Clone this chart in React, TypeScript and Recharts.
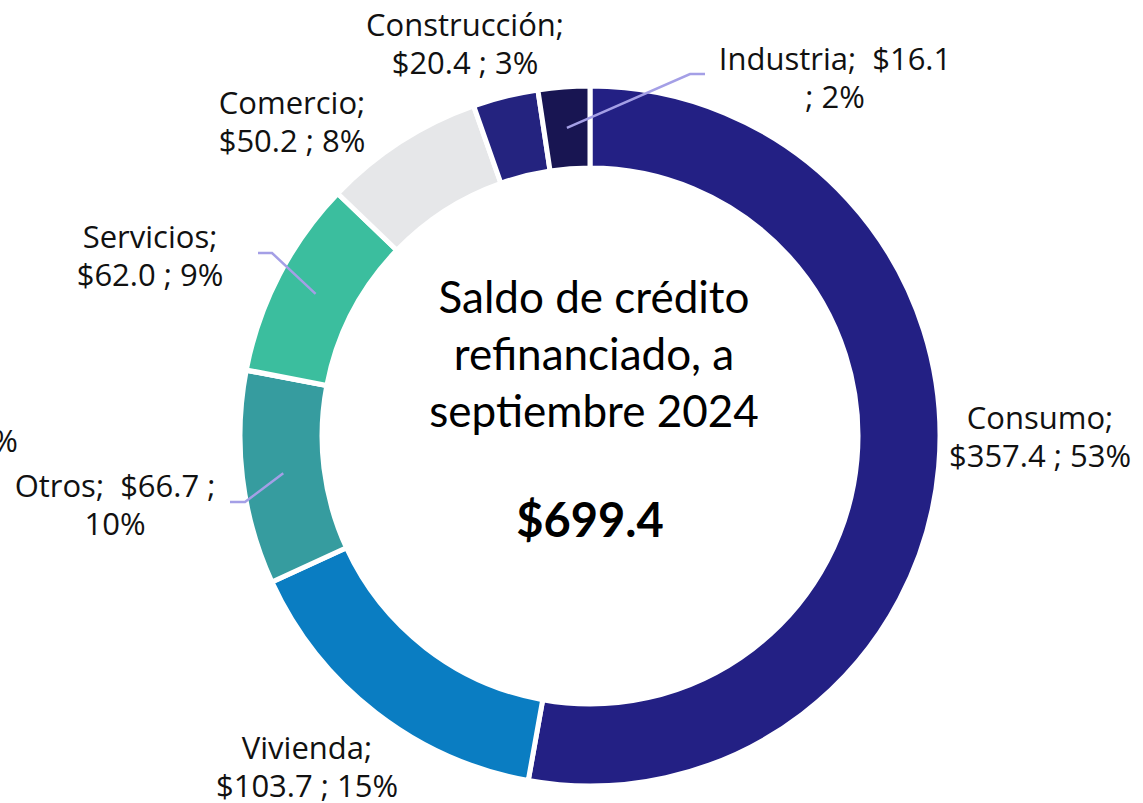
import { PieChart, Pie, Cell } from "recharts";

// Saldo de crédito refinanciado por sector, septiembre 2024
const sectors = ["Consumo", "Vivienda", "Otros", "", "Servicios", "Comercio", "Construcción", "Industria"];
const balances = [357.4, 103.7, 66.7, 0.1, 62.0, 50.2, 20.4, 16.1];
const shares = [53, 15, 10, 0, 9, 8, 3, 2]; // % as printed on the chart
const totalBalance = 699.4;
const titleLines = ["Saldo de crédito", "refinanciado, a", "septiembre 2024"];

const sliceColors = ["#232084", "#0a7dc2", "#369c9f", "#369c9f", "#3bbe9e", "#e6e7e9", "#24237f", "#181552"];

const data = sectors.map((name, i) => ({ name, value: balances[i], share: shares[i] }));

const CX = 590;
const CY = 436;
const LABEL_FONT = "'Open Sans', sans-serif";
const LEADER = "#a49fe6";

// label placement relative to the pie center (dx, dy of first line center)
// split: "name" breaks after the name, "value" after the value, "pct" only percentage
type Layout = {
  dx: number;
  dy: number;
  split: "name" | "value" | "pct";
  anchor?: "middle" | "end";
  leader?: [number, number, number, number];
};
const labelLayout: Layout[] = [
  { dx: 450, dy: -19, split: "name" },
  { dx: -283, dy: 311, split: "name" },
  { dx: -475, dy: 49, split: "value", leader: [-360, 66, -345, 66] },
  { dx: -572, dy: 4, split: "pct", anchor: "end" },
  { dx: -440, dy: -200, split: "name", leader: [-332, -183, -318, -183] },
  { dx: -298, dy: -334, split: "name" },
  { dx: -125, dy: -412, split: "name" },
  { dx: 245, dy: -378, split: "value", leader: [115, -362, 100, -362] },
];

const RAD = Math.PI / 180;

function renderLabel(props: any) {
  const { cx, cy, midAngle, innerRadius, outerRadius, index, name, value, payload } = props;
  const lay = labelLayout[index];
  const pct = payload?.share ?? shares[index];
  const val = `$${Number(value).toFixed(1)}`;
  let lines: string[];
  if (lay.split === "name") lines = [`${name};`, `${val} ; ${pct}%`];
  else if (lay.split === "value") lines = [`${name};  ${val}${index === 2 ? " ;" : ""}`, `${index === 2 ? "" : "; "}${pct}%`];
  else lines = [`${pct}%`];
  const x = cx + lay.dx;
  const y = cy + lay.dy;
  const midR = (innerRadius + outerRadius) / 2;
  const px = cx + midR * Math.cos(-midAngle * RAD);
  const py = cy + midR * Math.sin(-midAngle * RAD);
  return (
    <g key={`lab-${index}`}>
      {lay.leader && (
        <polyline
          points={`${cx + lay.leader[0]},${cy + lay.leader[1]} ${cx + lay.leader[2]},${cy + lay.leader[3]} ${px},${py}`}
          fill="none"
          stroke={LEADER}
          strokeWidth={2.5}
        />
      )}
      {lines.map((t, j) => (
        <text
          key={j}
          x={x}
          y={y + j * 38}
          textAnchor={lay.anchor ?? "middle"}
          dominantBaseline="central"
          fontFamily={LABEL_FONT}
          fontSize={31}
          fill="#111"
          style={{ whiteSpace: "pre" }}
        >
          {t}
        </text>
      ))}
    </g>
  );
}

export default function App() {
  return (
    <div style={{ position: "absolute", left: 0, top: 0, width: 1143, height: 803, background: "#fff", overflow: "hidden" }}>
      <PieChart width={1143} height={803} margin={{ top: 0, right: 0, bottom: 0, left: 0 }}>
        <Pie
          data={data}
          dataKey="value"
          nameKey="name"
          cx={CX}
          cy={CY}
          innerRadius={268}
          outerRadius={350}
          startAngle={90}
          endAngle={-270}
          stroke="#fff"
          strokeWidth={5}
          label={renderLabel}
          labelLine={false}
          isAnimationActive={false}
        >
          {data.map((d, i) => (
            <Cell key={d.name + i} fill={sliceColors[i]} />
          ))}
        </Pie>
        {titleLines.map((t, i) => (
          <text
            key={t}
            x={CX + 4}
            y={313 + i * 57}
            textAnchor="middle"
            fontFamily="Lato, sans-serif"
            fontSize={44}
            fill="#000"
          >
            {t}
          </text>
        ))}
        <text
          x={CX}
          y={537}
          textAnchor="middle"
          fontFamily="Lato, sans-serif"
          fontWeight="bold"
          fontSize={47}
          fill="#000"
        >
          {`$${totalBalance.toFixed(1)}`}
        </text>
      </PieChart>
    </div>
  );
}
